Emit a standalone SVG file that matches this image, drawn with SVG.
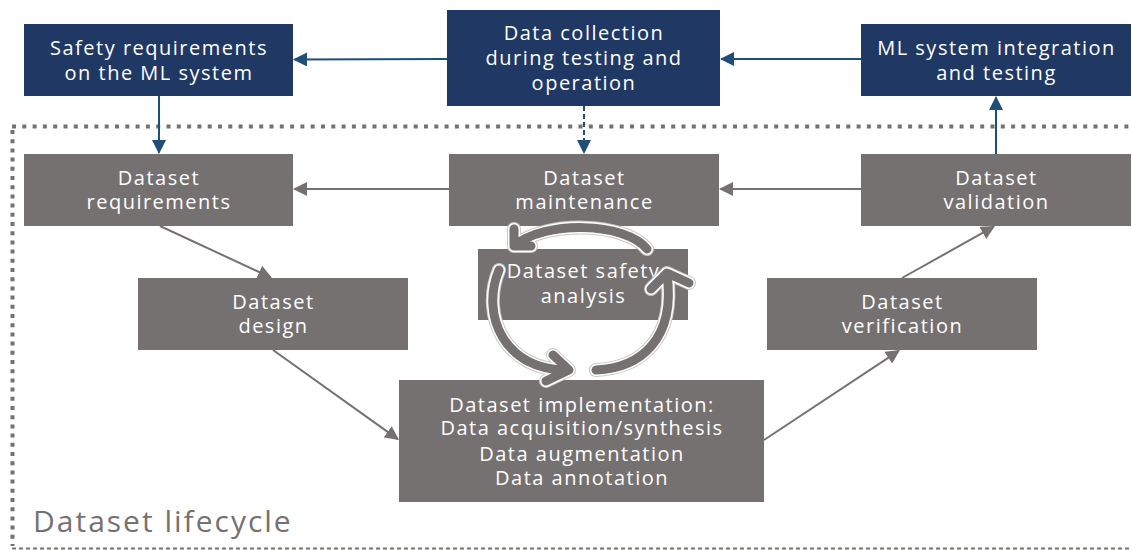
<svg xmlns="http://www.w3.org/2000/svg" xmlns:xlink="http://www.w3.org/1999/xlink" width="1132" height="550" viewBox="0 0 1132 550">
  <style>
    .navy { fill: #1F3864; }
    .slate { fill: #767171; }
    .lbl { font-family: "Open Sans", "Liberation Sans", sans-serif; font-size: 20px; letter-spacing: 1.5px; fill: #FFFFFF; text-anchor: middle; }
    .title { font-family: "Open Sans", "Liberation Sans", sans-serif; font-size: 30px; letter-spacing: 2px; fill: #767171; }
    .c-blue { stroke: #1F4E79; stroke-width: 2; fill: none; marker-end: url(#headBlue); }
    .c-grey { stroke: #767171; stroke-width: 2; fill: none; marker-end: url(#headGrey); }
    .dash { stroke-dasharray: 5 3; }
    .frame-dots { stroke: #767171; stroke-width: 4; fill: none; }
    .frame-dash { stroke: #767171; stroke-width: 2; fill: none; stroke-dasharray: 4 3; }
    .cy-edge { fill: none; stroke: #C9C7C7; stroke-width: 14; stroke-linecap: round; stroke-linejoin: round; }
    .cy-halo { fill: none; stroke: #FFFFFF; stroke-width: 12; stroke-linecap: round; stroke-linejoin: round; }
    .cy-band { fill: none; stroke: #767171; stroke-width: 9; stroke-linecap: round; stroke-linejoin: round; }
  </style>
  <defs>
    <marker id="headBlue" markerUnits="userSpaceOnUse" markerWidth="14" markerHeight="14" refX="12.5" refY="7" orient="auto">
      <path d="M0,0 L14,7 L0,14 z" fill="#1F4E79"/>
    </marker>
    <marker id="headGrey" markerUnits="userSpaceOnUse" markerWidth="14" markerHeight="14" refX="12.5" refY="7" orient="auto">
      <path d="M0,0 L14,7 L0,14 z" fill="#767171"/>
    </marker>
    <!-- circular "safety analysis" arrows: arc plus open chevron head -->
    <path id="cyTop" d="M647,249 C625,222 545,220 514,246 M514,229 L514,246 L531,246"/>
    <path id="cyLeft" d="M499,270 C480,315 505,372 569,370 M553,355 L569,370 L546,381"/>
    <path id="cyRight" d="M596,370 C640,368 676,340 667,274 M651,289 L667,273 L689,283"/>
  </defs>

  <!-- lifecycle frame -->
  <g id="frame">
    <line class="frame-dots" x1="12" y1="126.5" x2="1130" y2="126.5" stroke-dasharray="4 6.3"/>
    <line class="frame-dots" x1="12.5" y1="130" x2="12.5" y2="546" stroke-dasharray="4 5.2"/>
    <line class="frame-dash" x1="12" y1="548.5" x2="1132" y2="548.5"/>
    <text class="title" x="33" y="532">Dataset lifecycle</text>
  </g>

  <!-- connectors -->
  <g id="connectors">
    <line class="c-blue" x1="447" y1="59" x2="294.5" y2="59.5"/>
    <line class="c-blue" x1="861" y1="59" x2="721.5" y2="59"/>
    <line class="c-blue" x1="159" y1="96" x2="159" y2="152.5"/>
    <line class="c-blue dash" x1="584" y1="106" x2="584" y2="152.5"/>
    <line class="c-blue" x1="996" y1="154" x2="996" y2="97.5"/>
    <line class="c-grey" x1="449" y1="189" x2="294.5" y2="189"/>
    <line class="c-grey" x1="861" y1="189" x2="720.5" y2="189"/>
    <line class="c-grey" x1="160" y1="226" x2="270.6" y2="277.4"/>
    <line class="c-grey" x1="273" y1="350" x2="397.8" y2="439.1"/>
    <line class="c-grey" x1="764" y1="440" x2="898.7" y2="350.8"/>
    <line class="c-grey" x1="902" y1="278" x2="993.7" y2="226.7"/>
  </g>

  <!-- system-level nodes -->
  <g id="safety-requirements">
    <rect class="navy" x="24" y="24" width="269" height="72"/>
    <text class="lbl" x="159" y="55">Safety requirements</text>
    <text class="lbl" x="159" y="80">on the ML system</text>
  </g>
  <g id="data-collection">
    <rect class="navy" x="447" y="10" width="273" height="96"/>
    <text class="lbl" x="584" y="40">Data collection</text>
    <text class="lbl" x="584" y="65">during testing and</text>
    <text class="lbl" x="584" y="90">operation</text>
  </g>
  <g id="ml-integration">
    <rect class="navy" x="861" y="24" width="270" height="72"/>
    <text class="lbl" x="996.5" y="55">ML system integration</text>
    <text class="lbl" x="996.5" y="80">and testing</text>
  </g>

  <!-- dataset lifecycle nodes -->
  <g id="dataset-requirements">
    <rect class="slate" x="24" y="154" width="269" height="72"/>
    <text class="lbl" x="159" y="185">Dataset</text>
    <text class="lbl" x="159" y="209">requirements</text>
  </g>
  <g id="dataset-maintenance">
    <rect class="slate" x="449" y="154" width="270" height="72"/>
    <text class="lbl" x="584.5" y="185">Dataset</text>
    <text class="lbl" x="584.5" y="209">maintenance</text>
  </g>
  <g id="dataset-validation">
    <rect class="slate" x="861" y="154" width="270" height="72"/>
    <text class="lbl" x="996.5" y="185">Dataset</text>
    <text class="lbl" x="996.5" y="209">validation</text>
  </g>
  <g id="dataset-design">
    <rect class="slate" x="138" y="278" width="270" height="72"/>
    <text class="lbl" x="273.5" y="309">Dataset</text>
    <text class="lbl" x="273.5" y="333">design</text>
  </g>
  <g id="dataset-verification">
    <rect class="slate" x="767" y="278" width="270" height="72"/>
    <text class="lbl" x="902.5" y="309">Dataset</text>
    <text class="lbl" x="902.5" y="333">verification</text>
  </g>
  <g id="dataset-implementation">
    <rect class="slate" x="399" y="380" width="365" height="122"/>
    <text class="lbl" x="582" y="412">Dataset implementation:</text>
    <text class="lbl" x="582" y="435">Data acquisition/synthesis</text>
    <text class="lbl" x="582" y="461">Data augmentation</text>
    <text class="lbl" x="582" y="485">Data annotation</text>
  </g>
  <g id="dataset-safety-analysis">
    <rect class="slate" x="478" y="249" width="210" height="71"/>
    <text class="lbl" x="583.5" y="278">Dataset safety</text>
    <text class="lbl" x="583.5" y="303">analysis</text>
    <g id="cycle">
      <use xlink:href="#cyTop" class="cy-edge"/>
      <use xlink:href="#cyTop" class="cy-halo"/>
      <use xlink:href="#cyTop" class="cy-band"/>
      <use xlink:href="#cyLeft" class="cy-edge"/>
      <use xlink:href="#cyLeft" class="cy-halo"/>
      <use xlink:href="#cyLeft" class="cy-band"/>
      <use xlink:href="#cyRight" class="cy-edge"/>
      <use xlink:href="#cyRight" class="cy-halo"/>
      <use xlink:href="#cyRight" class="cy-band"/>
    </g>
  </g>
</svg>
